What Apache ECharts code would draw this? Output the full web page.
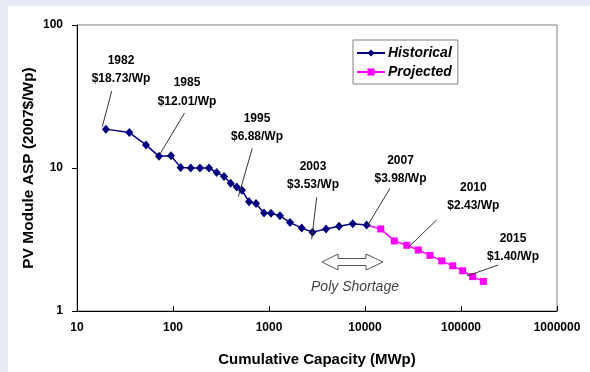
<!DOCTYPE html>
<html><head><meta charset="utf-8">
<script src="https://cdn.jsdelivr.net/npm/echarts@6/dist/echarts.min.js"></script>
<style>
html,body{margin:0;padding:0;background:#e7e9f5;width:590px;height:372px;overflow:hidden;}
#panel{position:absolute;left:8px;top:6px;width:582px;height:366px;background:#fff;}
#c{position:absolute;left:0;top:0;width:590px;height:372px;}
</style></head>
<body><div id="panel"></div><div id="c"></div>
<script>
const capHistorical = [20.0, 35.1, 52.3, 71.5, 95.3, 120, 153, 191, 237, 285, 340, 399, 461, 523, 619, 732, 887, 1050, 1300, 1655, 2190, 2840, 3925, 5360, 7450, 10400];
const aspHistorical = [18.7, 17.7, 14.5, 12.07, 12.2, 10.1, 10.0, 10.0, 10.0, 9.3, 8.73, 7.81, 7.37, 6.99, 5.80, 5.65, 4.84, 4.82, 4.64, 4.15, 3.81, 3.56, 3.74, 3.92, 4.08, 4.00];
const capProjected = [14580, 20200, 27200, 35900, 47500, 63000, 82000, 104000, 132000, 171000];
const aspProjected = [3.75, 3.09, 2.88, 2.67, 2.45, 2.24, 2.07, 1.91, 1.74, 1.61];
const xTicks = [10, 100, 1000, 10000, 100000, 1000000];
const yTicks = [1, 10, 100];
const seriesNames = ['Historical', 'Projected'];
const annYears = ['1982', '1985', '1995', '2003', '2007', '2010', '2015'];
const annPrices = ['$18.73/Wp', '$12.01/Wp', '$6.88/Wp', '$3.53/Wp', '$3.98/Wp', '$2.43/Wp', '$1.40/Wp'];
const shortageLabel = 'Poly Shortage';

// layout of annotations (pixel positions: text center x, line1 y, line2 y, leader x1,y1,x2,y2)
const annLayout = [
  [121, 61, 79, 111.7, 91, 102.3, 126.7],
  [187, 83, 102, 184.5, 113, 160, 154],
  [257, 118.5, 137, 252.3, 148.3, 238.3, 196.7],
  [313, 167, 185, 316.7, 197.3, 311.7, 239.3],
  [400.5, 161, 179, 390, 188.3, 367.3, 226],
  [473.3, 187.5, 206, 436.7, 220, 408.3, 247.3],
  [513, 238.5, 257, 498.3, 265, 466.7, 276]
];

const FONT = '"Liberation Sans", Arial, sans-serif';
const hist = capHistorical.map((c, i) => [c, aspHistorical[i]]);
const proj = [{ value: hist[hist.length - 1], symbol: 'none' }].concat(capProjected.map((c, i) => [c, aspProjected[i]]));

const graphics = [];
annLayout.forEach((L, i) => {
  graphics.push({ type: 'text', x: L[0], y: L[1], style: { text: annYears[i], fill: '#000', font: 'bold 12px ' + FONT, textAlign: 'center', textVerticalAlign: 'middle' }, z: 10 });
  graphics.push({ type: 'text', x: L[0], y: L[2], style: { text: annPrices[i], fill: '#000', font: 'bold 12px ' + FONT, textAlign: 'center', textVerticalAlign: 'middle' }, z: 10 });
  graphics.push({ type: 'line', shape: { x1: L[3], y1: L[4], x2: L[5], y2: L[6] }, style: { stroke: '#333', lineWidth: 1 }, z: 10 });
});
graphics.push({
  type: 'polygon', z: 10,
  shape: { points: [[322, 262], [338, 254], [338, 258.5], [366, 258.5], [366, 254], [383, 262], [366, 270], [366, 265.5], [338, 265.5], [338, 270]] },
  style: { fill: '#fff', stroke: '#555', lineWidth: 1 }
});
graphics.push({ type: 'text', x: 355, y: 287, style: { text: shortageLabel, fill: '#444', font: 'italic 14px ' + FONT, textAlign: 'center', textVerticalAlign: 'middle' }, z: 10 });

const chart = echarts.init(document.getElementById('c'), null, { renderer: 'canvas' });
chart.setOption({
  backgroundColor: 'transparent',
  animation: false,
  textStyle: { fontFamily: FONT },
  grid: { left: 77, right: 33, top: 25, bottom: 58, show: true, borderColor: '#808080', borderWidth: 1, backgroundColor: 'transparent' },
  legend: {
    orient: 'vertical', left: 353, top: 40,
    data: seriesNames,
    backgroundColor: '#fff', borderColor: '#808080', borderWidth: 1,
    padding: [6, 6, 5, 3], itemGap: 5, itemWidth: 28, itemHeight: 9,
    textStyle: { fontFamily: FONT, fontSize: 14, fontWeight: 'bold', fontStyle: 'italic', color: '#000', padding: [0, 0, 0, -2] }
  },
  xAxis: {
    type: 'log', logBase: 10, min: xTicks[0], max: xTicks[xTicks.length - 1],
    name: 'Cumulative Capacity (MWp)', nameLocation: 'middle', nameGap: 41, nameMoveOverlap: false,
    nameTextStyle: { fontFamily: FONT, fontSize: 15, fontWeight: 'bold', color: '#000' },
    axisLine: { show: true, lineStyle: { color: '#000', width: 1 } },
    axisTick: { show: true, inside: true, length: 5, lineStyle: { color: '#000' } },
    minorTick: { show: false },
    splitLine: { show: false },
    axisLabel: { margin: 11, fontFamily: FONT, fontSize: 12, fontWeight: 'bold', color: '#000', formatter: v => String(Math.round(v)) }
  },
  yAxis: {
    type: 'log', logBase: 10, min: yTicks[0], max: yTicks[yTicks.length - 1],
    name: 'PV Module ASP (2007$/Wp)', nameLocation: 'middle', nameGap: 40, nameRotate: 90, nameMoveOverlap: false,
    nameTextStyle: { fontFamily: FONT, fontSize: 15.5, fontWeight: 'bold', color: '#000' },
    axisLine: { show: true, lineStyle: { color: '#000', width: 1 } },
    axisTick: { show: true, inside: false, length: 5, lineStyle: { color: '#000' } },
    splitLine: { show: false },
    axisLabel: { margin: 14, fontFamily: FONT, fontSize: 12, fontWeight: 'bold', color: '#000', formatter: v => String(Math.round(v)) }
  },
  series: [
    {
      name: seriesNames[0], type: 'line', data: hist, z: 4,
      symbol: 'diamond', symbolSize: [8, 9],
      lineStyle: { color: '#000080', width: 1.5 },
      itemStyle: { color: '#000080' }
    },
    {
      name: seriesNames[1], type: 'line', data: proj, z: 3,
      symbol: 'rect', symbolSize: 7,
      lineStyle: { color: '#ff00ff', width: 1.5 },
      itemStyle: { color: '#ff00ff' }
    }
  ],
  graphic: graphics
});
</script>
</body></html>
